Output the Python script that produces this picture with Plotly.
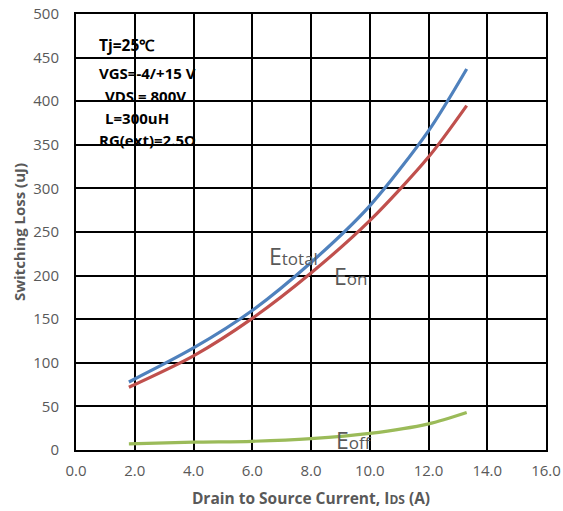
import plotly.graph_objects as go

# Drain current (A) and switching energy (uJ) per component
ids_a = [1.8, 4.0, 6.0, 8.0, 10.0, 12.0, 13.3]
e_total = [78, 117, 160, 215, 280, 366, 437]
e_on = [72, 108, 151, 203, 263, 336, 395]
e_off = [7, 9, 10, 13, 19, 30, 43]

x_ticks = [0, 2, 4, 6, 8, 10, 12, 14, 16]
y_ticks = [0, 50, 100, 150, 200, 250, 300, 350, 400, 450, 500]

conditions = ["Tj=25℃", "VGS=-4/+15 V", "VDS = 800V", "L=300uH", "RG(ext)=2.5Ω"]

fig = go.Figure()
series = [
    ("Etotal", e_total, "#4F81BD"),
    ("Eon", e_on, "#C0504D"),
    ("Eoff", e_off, "#9BBB59"),
]
for name, vals, color in series:
    fig.add_trace(go.Scatter(
        x=ids_a, y=vals, mode="lines", name=name,
        line=dict(color=color, width=3.2, shape="spline", smoothing=0.8),
        showlegend=False,
    ))

font_main = "'Open Sans', 'Liberation Sans', sans-serif"

# Test conditions block
cond_y = [464, 432, 406, 381, 355]
cond_x = [0.71, 0.71, 0.92, 0.92, 0.71]
cond_size = [15.5, 15, 15, 15, 15]
for txt, cx, cy, cs in zip(conditions, cond_x, cond_y, cond_size):
    fig.add_annotation(
        x=cx, y=cy, text=f"<b>{txt}</b>", showarrow=False,
        xanchor="left", yanchor="middle",
        font=dict(family=font_main, size=cs, color="black"),
    )

# Curve labels
labels = [
    ("E", "total", 6.5, 222),
    ("E", "on", 8.7, 200),
    ("E", "off", 8.78, 12),
]
for big, small, lx, ly in labels:
    fig.add_annotation(
        x=lx, y=ly, showarrow=False, xanchor="left", yanchor="middle",
        text=f"{big}<span style='font-size:17px'>{small}</span>",
        font=dict(family=font_main, size=23, color="#595959"),
    )

axis_common = dict(
    showgrid=True, gridcolor="black", gridwidth=2,
    showline=True, linecolor="black", linewidth=2, mirror=True,
    zeroline=False, ticks="", automargin=False,
    tickfont=dict(family=font_main, size=15, color="#595959"),
)

fig.update_xaxes(
    range=[0, 16], tickvals=x_ticks,
    ticktext=[f"{v:.1f}" for v in x_ticks],
    ticklabelstandoff=6,
    title=dict(text="<b>Drain to Source Current, I<span style='font-size:12px'>DS</span> (A)</b>",
               font=dict(family=font_main, size=15.5, color="#595959"), standoff=14),
    **axis_common,
)
fig.update_yaxes(
    range=[0, 500], tickvals=y_ticks,
    ticklabelstandoff=12,
    title=dict(text="<b>Switching Loss (uJ)</b>",
               font=dict(family=font_main, size=15, color="#595959"), standoff=4),
    **axis_common,
)

fig.update_layout(
    width=563, height=511,
    margin=dict(l=76, r=17, t=14, b=61, autoexpand=False),
    plot_bgcolor="white", paper_bgcolor="white",
)

fig.write_html("out.html")
